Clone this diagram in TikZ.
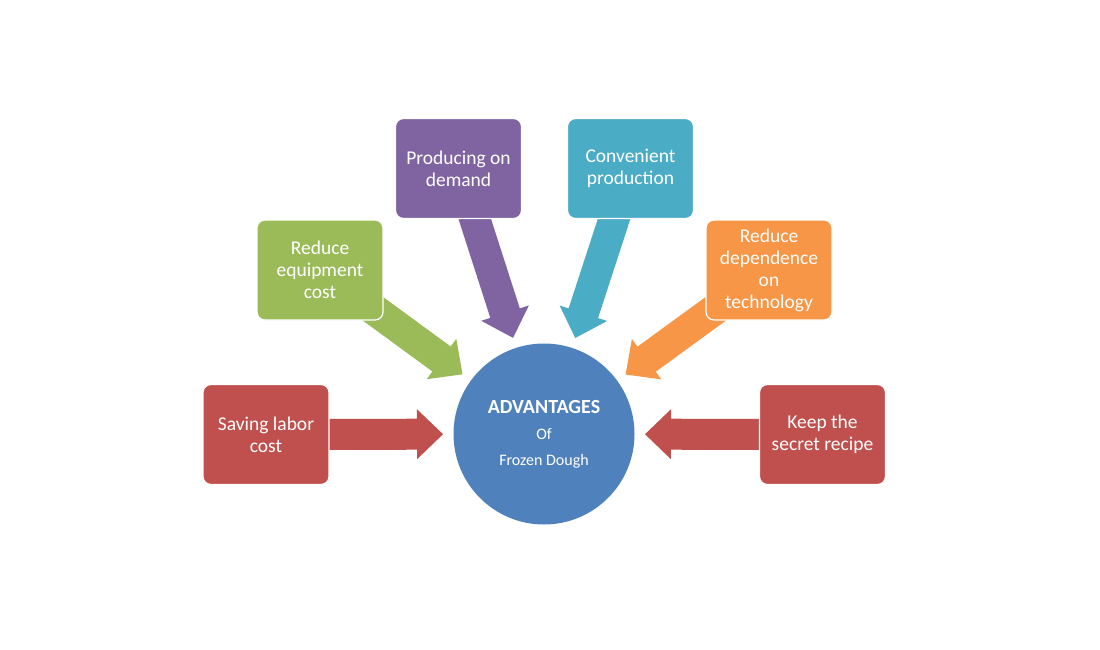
\documentclass[tikz,border=0pt]{standalone}
\usepackage{fontspec}
\setmainfont{Carlito}
\usetikzlibrary{calc}
\definecolor{cred}{HTML}{C0504D}
\definecolor{cgreen}{HTML}{9BBB59}
\definecolor{cpurple}{HTML}{8064A2}
\definecolor{cteal}{HTML}{4BACC6}
\definecolor{corange}{HTML}{F79646}
\definecolor{cblue}{HTML}{4F81BD}
\pgfdeclarelayer{bg}
\pgfsetlayers{bg,main}
\tikzset{
  box/.style={rectangle, rounded corners=8pt, draw=white, line width=1.2pt,
    minimum width=126pt, minimum height=100pt, text=white, align=center,
    font=\fontsize{19.5}{22}\selectfont, inner sep=2pt},
  hub/.style={circle, fill=cblue, minimum size=181pt, inner sep=0pt, text=white,
    align=center, font=\fontsize{16}{26}\selectfont}
}
% #1 colour, #2 source node, #3 target node
\newcommand\blockarrow[3]{%
  \coordinate (bT) at ($(#3.center)!101pt!(#2.center)$);
  \coordinate (bH) at ($(bT)!26pt!(#2.center)$);
  \fill[#1] ($(#2.center)!15.5pt!90:(bT)$) -- ($(bH)!15.5pt!-90:(#2.center)$)
    -- ($(bH)!25pt!-90:(#2.center)$) -- (bT) -- ($(bH)!25pt!90:(#2.center)$)
    -- ($(bH)!15.5pt!90:(#2.center)$) -- ($(#2.center)!15.5pt!-90:(bT)$) -- cycle;
}
\begin{document}
\begin{tikzpicture}[x=1pt,y=-1pt]
\useasboundingbox (0,0) rectangle (1100,650);
\node[hub] (c) at (544,434) {{\bfseries\fontsize{20}{26}\selectfont ADVANTAGES}\\Of\\Frozen Dough};
\node[box, fill=cred] (b1) at (266,434.5) {Saving labor\\cost};
\node[box, fill=cgreen] (b2) at (320,270) {Reduce\\equipment\\cost};
\node[box, fill=cpurple] (b3) at (458.5,168.5) {Producing on\\demand};
\node[box, fill=cteal] (b4) at (630.5,168.5) {Convenient\\production};
\node[box, fill=corange] (b5) at (769,270) {Reduce\\dependence\\on\\technology};
\node[box, fill=cred] (b6) at (822.5,434.5) {Keep the\\secret recipe};
\begin{pgfonlayer}{bg}
\fill[white] (0,0) rectangle (1100,650);
\blockarrow{cred}{b1}{c}
\blockarrow{cgreen}{b2}{c}
\blockarrow{cpurple}{b3}{c}
\blockarrow{cteal}{b4}{c}
\blockarrow{corange}{b5}{c}
\blockarrow{cred}{b6}{c}
\end{pgfonlayer}
\end{tikzpicture}
\end{document}
